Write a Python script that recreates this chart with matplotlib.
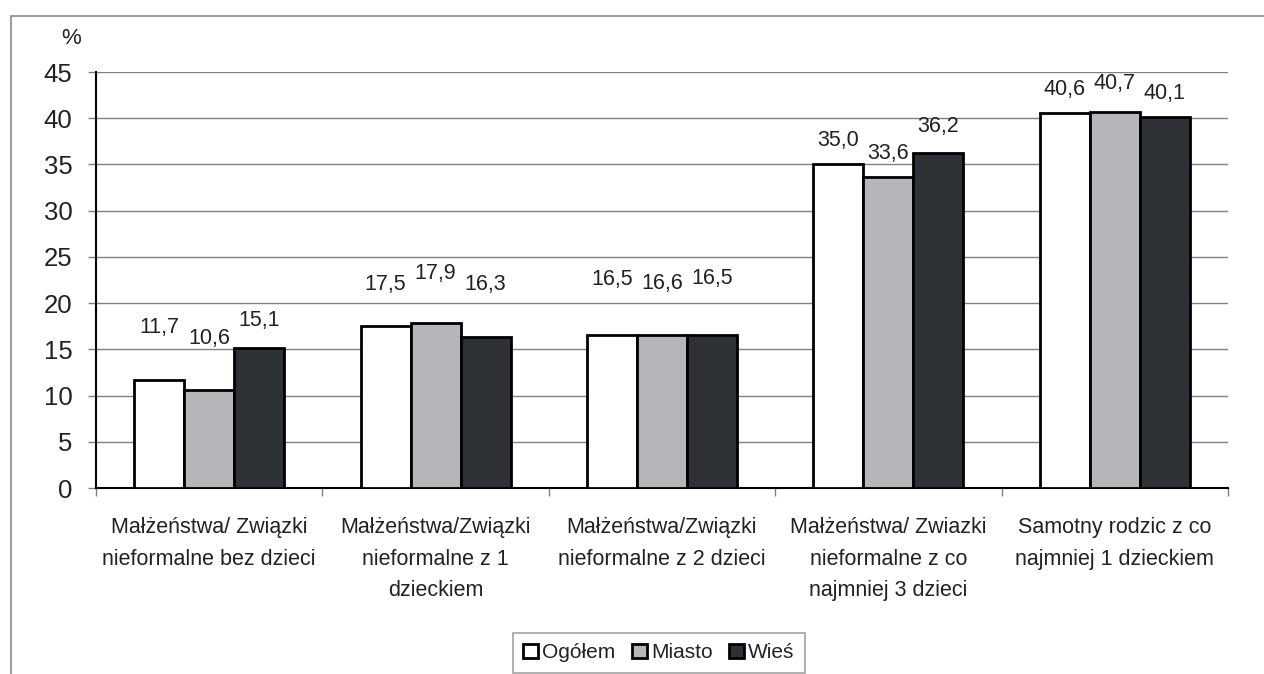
import matplotlib.pyplot as plt
import matplotlib.patches as mpatches
import numpy as np

plt.rcParams['font.family'] = ['Liberation Sans', 'DejaVu Sans']

categories = ["Małżeństwa/ Związki\nnieformalne bez dzieci",
              "Małżeństwa/Związki\nnieformalne z 1\ndzieckiem",
              "Małżeństwa/Związki\nnieformalne z 2 dzieci",
              "Małżeństwa/ Zwiazki\nnieformalne z co\nnajmniej 3 dzieci",
              "Samotny rodzic z co\nnajmniej 1 dzieckiem"]
series = ["Ogółem", "Miasto", "Wieś"]
ogolem = [11.7, 17.5, 16.5, 35.0, 40.6]
miasto = [10.6, 17.9, 16.6, 33.6, 40.7]
wies = [15.1, 16.3, 16.5, 36.2, 40.1]

# how far each value label sits above its bar (points), as placed in the original
label_lift = [[38, 37, 20], [30, 35, 38], [40, 37, 41], [17, 17, 19], [17, 20, 17]]

colors = ["#ffffff", "#b5b6ba", "#2e3135"]
txt = "#222222"

fig = plt.figure(figsize=(12.64, 6.74), dpi=100)
W, H = 1264, 674
ax = fig.add_axes([96 / W, 1 - 488 / H, (1228 - 96) / W, (488 - 72) / H])

# outer chart frame (cut off at right and bottom)
fig.patches.append(mpatches.Rectangle((11 / W, -0.1), 1.2, 1 - 16 / H + 0.1,
                                      transform=fig.transFigure, fill=False,
                                      edgecolor="#8a8a8a", linewidth=1.2))

x = np.arange(len(categories)) + 0.5
w = 0.221
vals = [ogolem, miasto, wies]
for k, (name, v) in enumerate(zip(series, vals)):
    bars = ax.bar(x + (k - 1) * w, v, w, color=colors[k], edgecolor="black",
                  linewidth=2, label=name, zorder=3)
    for i, b in enumerate(bars):
        ax.annotate(f"{v[i]:.1f}".replace(".", ","),
                    (b.get_x() + b.get_width() / 2, b.get_height()),
                    xytext=(0, label_lift[i][k]), textcoords="offset points",
                    ha="center", va="center", fontsize=15.5, color=txt)

ax.set_xlim(0, 5)
ax.set_ylim(0, 45)
ax.set_yticks(range(0, 46, 5))
ax.yaxis.grid(True, color="#808080", linewidth=1)
ax.set_axisbelow(True)
for s in ["top", "right"]:
    ax.spines[s].set_visible(False)
ax.spines["left"].set_linewidth(1.5)
ax.spines["bottom"].set_linewidth(1.5)
ax.tick_params(axis="y", length=6, width=1, color="#808080", pad=11,
               labelsize=18.5, labelcolor=txt)

ax.set_xticks(x)
ax.set_xticklabels(categories, fontsize=15.5, color=txt, linespacing=1.65)
ax.tick_params(axis="x", which="major", length=0, pad=21)
ax.set_xticks(np.arange(0, 6), minor=True)
ax.tick_params(axis="x", which="minor", length=6, width=1, color="#808080")

fig.text(71 / W, 1 - 38 / H, "%", fontsize=16, color=txt, ha="center", va="center")

leg = fig.legend(loc="upper left", bbox_to_anchor=(513 / W, 1 - 633 / H), ncol=3,
                 fontsize=15, frameon=True, fancybox=False, handlelength=0.7,
                 handleheight=0.7, handletextpad=0.2, columnspacing=0.8,
                 borderpad=0.5, borderaxespad=0)
leg.get_frame().set_edgecolor("#8a8a8a")
leg.get_frame().set_linewidth(1.2)
for t in leg.get_texts():
    t.set_color(txt)

fig.savefig("out.png", dpi=100)
